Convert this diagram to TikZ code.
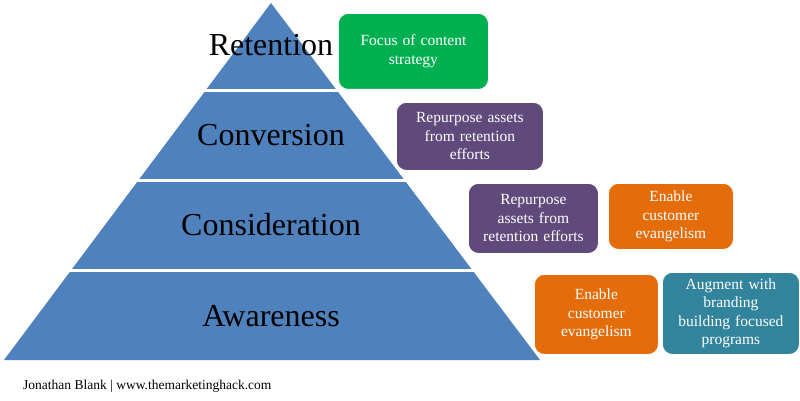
\documentclass[tikz,border=0pt]{standalone}
\usepackage{fontspec}
\setmainfont{Liberation Serif}
\definecolor{pyrblue}{HTML}{4F81BD}
\definecolor{boxgreen}{HTML}{00B050}
\definecolor{boxpurple}{HTML}{604A7B}
\definecolor{boxorange}{HTML}{E46C0A}
\definecolor{boxteal}{HTML}{31849B}
\newcommand{\boxfont}{\fontsize{15.5}{18.5}\selectfont\spaceskip=0.33em plus 0.1em\relax}
\tikzset{
  tier/.style={font=\fontsize{32}{36}\selectfont, text=black, inner sep=0pt},
  infobox/.style={rounded corners=10pt, draw=white, line width=0.8pt, text=white, align=center,
    font=\boxfont, inner sep=0pt, anchor=north west},
}
\begin{document}
\begin{tikzpicture}[x=1pt,y=-1pt]
\useasboundingbox (0,0) rectangle (800,401);
% pyramid
\fill[pyrblue] (271,3) -- (540,360) -- (4,360) -- cycle;
\draw[white, line width=2.4pt] (0,90.5) -- (560,90.5);
\draw[white, line width=2.4pt] (0,180.5) -- (560,180.5);
\draw[white, line width=2.4pt] (0,270.5) -- (560,270.5);
\node[tier] (ret) at (271,45) {Retention};
\node[tier] (conv) at (271,135) {Conversion};
\node[tier] (cons) at (271,225) {Consideration};
\node[tier] (aw) at (271,316) {Awareness};
% boxes
\node[infobox, fill=boxgreen, minimum width=150pt, minimum height=76pt] (b1) at (338,13) {Focus of content\\strategy};
\node[infobox, fill=boxpurple, minimum width=147pt, minimum height=68pt] (b2) at (396,102) {Repurpose assets\\from retention\\efforts};
\node[infobox, fill=boxpurple, minimum width=130pt, minimum height=70pt] (b3) at (468,183) {Repurpose\\assets from\\retention efforts};
\node[infobox, fill=boxorange, minimum width=125pt, minimum height=66pt] (b4) at (608,183) {Enable\\customer\\evangelism};
\node[infobox, fill=boxorange, minimum width=124pt, minimum height=80pt] (b5) at (534,274) {Enable\\customer\\evangelism};
\node[infobox, fill=boxteal, minimum width=137pt, minimum height=82pt] (b6) at (662,272) {Augment with\\branding\\building focused\\programs};
% footer
\node[anchor=west, inner sep=0pt, font=\fontsize{13.5}{15}\selectfont] (foot) at (23,386) {Jonathan Blank | www.themarketinghack.com};
\end{tikzpicture}
\end{document}
